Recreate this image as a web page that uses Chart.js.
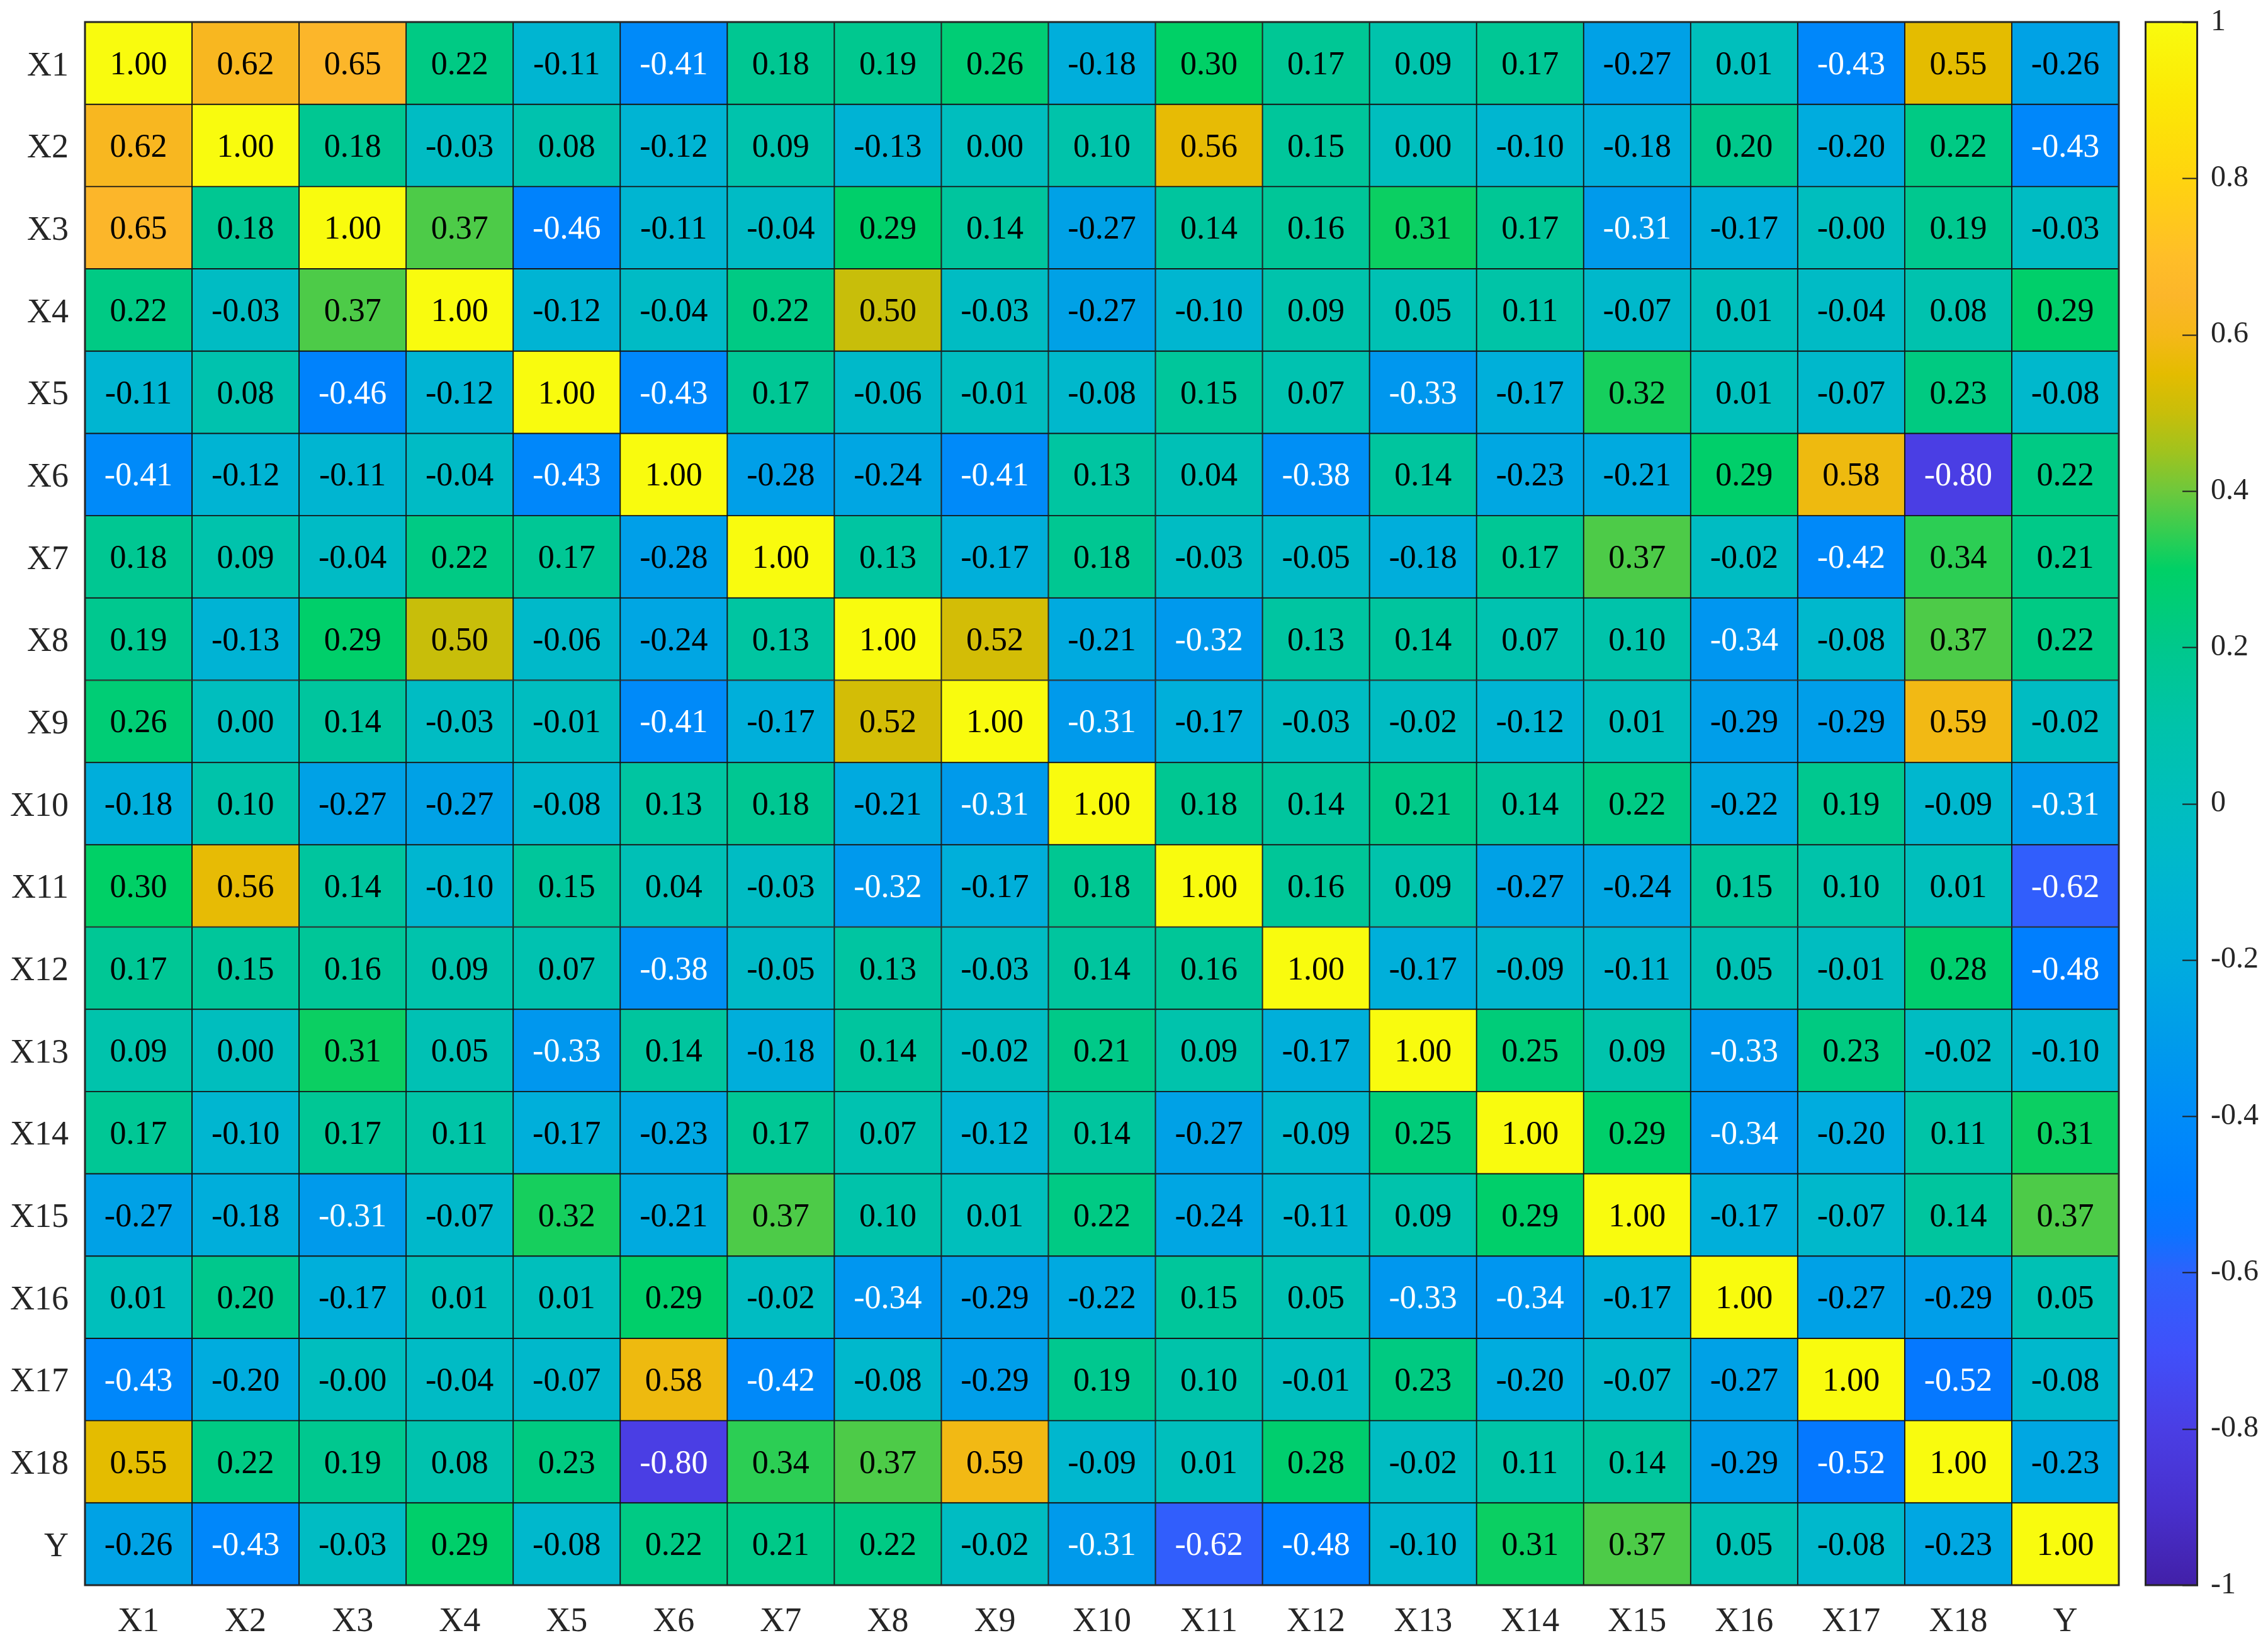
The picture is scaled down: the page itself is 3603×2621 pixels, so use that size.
<!DOCTYPE html>
<html>
<head>
<meta charset="utf-8">
<script src="https://cdn.jsdelivr.net/npm/chart.js@4/dist/chart.umd.min.js"></script>
<style>
  html, body { margin: 0; padding: 0; background: #ffffff; }
  #wrap { position: relative; width: 3603px; height: 2621px; background: #ffffff; }
  #main { position: absolute; left: 0; top: 0; }
  #cbar { position: absolute; left: 3407px; top: 0; }
</style>
</head>
<body>
<div id="wrap">
  <canvas id="main" width="3603" height="2621"></canvas>
  <canvas id="cbar" width="196" height="2621"></canvas>
</div>
<script>
// ---------------- DATA ----------------
const colLabels = ["X1","X2","X3","X4","X5","X6","X7","X8","X9","X10","X11","X12","X13","X14","X15","X16","X17","X18","Y"];
const rowLabels = ["X1","X2","X3","X4","X5","X6","X7","X8","X9","X10","X11","X12","X13","X14","X15","X16","X17","X18","Y"];

const corrX1  = [1.00, 0.62, 0.65, 0.22, -0.11, -0.41, 0.18, 0.19, 0.26, -0.18, 0.30, 0.17, 0.09, 0.17, -0.27, 0.01, -0.43, 0.55, -0.26];
const corrX2  = [0.62, 1.00, 0.18, -0.03, 0.08, -0.12, 0.09, -0.13, 0.00, 0.10, 0.56, 0.15, 0.00, -0.10, -0.18, 0.20, -0.20, 0.22, -0.43];
const corrX3  = [0.65, 0.18, 1.00, 0.37, -0.46, -0.11, -0.04, 0.29, 0.14, -0.27, 0.14, 0.16, 0.31, 0.17, -0.31, -0.17, -0.001, 0.19, -0.03];
const corrX4  = [0.22, -0.03, 0.37, 1.00, -0.12, -0.04, 0.22, 0.50, -0.03, -0.27, -0.10, 0.09, 0.05, 0.11, -0.07, 0.01, -0.04, 0.08, 0.29];
const corrX5  = [-0.11, 0.08, -0.46, -0.12, 1.00, -0.43, 0.17, -0.06, -0.01, -0.08, 0.15, 0.07, -0.33, -0.17, 0.32, 0.01, -0.07, 0.23, -0.08];
const corrX6  = [-0.41, -0.12, -0.11, -0.04, -0.43, 1.00, -0.28, -0.24, -0.41, 0.13, 0.04, -0.38, 0.14, -0.23, -0.21, 0.29, 0.58, -0.80, 0.22];
const corrX7  = [0.18, 0.09, -0.04, 0.22, 0.17, -0.28, 1.00, 0.13, -0.17, 0.18, -0.03, -0.05, -0.18, 0.17, 0.37, -0.02, -0.42, 0.34, 0.21];
const corrX8  = [0.19, -0.13, 0.29, 0.50, -0.06, -0.24, 0.13, 1.00, 0.52, -0.21, -0.32, 0.13, 0.14, 0.07, 0.10, -0.34, -0.08, 0.37, 0.22];
const corrX9  = [0.26, 0.00, 0.14, -0.03, -0.01, -0.41, -0.17, 0.52, 1.00, -0.31, -0.17, -0.03, -0.02, -0.12, 0.01, -0.29, -0.29, 0.59, -0.02];
const corrX10 = [-0.18, 0.10, -0.27, -0.27, -0.08, 0.13, 0.18, -0.21, -0.31, 1.00, 0.18, 0.14, 0.21, 0.14, 0.22, -0.22, 0.19, -0.09, -0.31];
const corrX11 = [0.30, 0.56, 0.14, -0.10, 0.15, 0.04, -0.03, -0.32, -0.17, 0.18, 1.00, 0.16, 0.09, -0.27, -0.24, 0.15, 0.10, 0.01, -0.62];
const corrX12 = [0.17, 0.15, 0.16, 0.09, 0.07, -0.38, -0.05, 0.13, -0.03, 0.14, 0.16, 1.00, -0.17, -0.09, -0.11, 0.05, -0.01, 0.28, -0.48];
const corrX13 = [0.09, 0.00, 0.31, 0.05, -0.33, 0.14, -0.18, 0.14, -0.02, 0.21, 0.09, -0.17, 1.00, 0.25, 0.09, -0.33, 0.23, -0.02, -0.10];
const corrX14 = [0.17, -0.10, 0.17, 0.11, -0.17, -0.23, 0.17, 0.07, -0.12, 0.14, -0.27, -0.09, 0.25, 1.00, 0.29, -0.34, -0.20, 0.11, 0.31];
const corrX15 = [-0.27, -0.18, -0.31, -0.07, 0.32, -0.21, 0.37, 0.10, 0.01, 0.22, -0.24, -0.11, 0.09, 0.29, 1.00, -0.17, -0.07, 0.14, 0.37];
const corrX16 = [0.01, 0.20, -0.17, 0.01, 0.01, 0.29, -0.02, -0.34, -0.29, -0.22, 0.15, 0.05, -0.33, -0.34, -0.17, 1.00, -0.27, -0.29, 0.05];
const corrX17 = [-0.43, -0.20, -0.001, -0.04, -0.07, 0.58, -0.42, -0.08, -0.29, 0.19, 0.10, -0.01, 0.23, -0.20, -0.07, -0.27, 1.00, -0.52, -0.08];
const corrX18 = [0.55, 0.22, 0.19, 0.08, 0.23, -0.80, 0.34, 0.37, 0.59, -0.09, 0.01, 0.28, -0.02, 0.11, 0.14, -0.29, -0.52, 1.00, -0.23];
const corrY   = [-0.26, -0.43, -0.03, 0.29, -0.08, 0.22, 0.21, 0.22, -0.02, -0.31, -0.62, -0.48, -0.10, 0.31, 0.37, 0.05, -0.08, -0.23, 1.00];

const matrix = [corrX1, corrX2, corrX3, corrX4, corrX5, corrX6, corrX7, corrX8, corrX9, corrX10,
                corrX11, corrX12, corrX13, corrX14, corrX15, corrX16, corrX17, corrX18, corrY];

const cbarMin = -1, cbarMax = 1, cbarStep = 0.2;

// ---------------- COLORMAP (style) ----------------
const cmapStops = [
  [-1.00, [66, 32, 168]],
  [-0.90, [72, 48, 205]],
  [-0.80, [74, 62, 228]],
  [-0.70, [64, 80, 250]],
  [-0.60, [45, 98, 252]],
  [-0.55, [12, 115, 255]],
  [-0.50, [0, 124, 255]],
  [-0.40, [0, 140, 248]],
  [-0.30, [0, 156, 234]],
  [-0.20, [0, 172, 222]],
  [-0.10, [0, 182, 208]],
  [0.00, [0, 190, 190]],
  [0.10, [0, 195, 170]],
  [0.20, [0, 200, 140]],
  [0.30, [0, 208, 102]],
  [0.35, [55, 205, 80]],
  [0.40, [110, 200, 60]],
  [0.45, [160, 195, 30]],
  [0.50, [200, 190, 10]],
  [0.55, [228, 188, 0]],
  [0.60, [245, 184, 25]],
  [0.65, [252, 182, 42]],
  [0.70, [255, 190, 40]],
  [0.80, [255, 212, 15]],
  [0.90, [252, 232, 5]],
  [1.00, [249, 251, 14]]
];
function cmap(v) {
  if (v <= cmapStops[0][0]) return rgb(cmapStops[0][1]);
  for (let k = 1; k < cmapStops.length; k++) {
    const [v1, c1] = cmapStops[k];
    const [v0, c0] = cmapStops[k - 1];
    if (v <= v1) {
      const t = (v - v0) / (v1 - v0);
      return rgb(c0.map((c, i) => c + (c1[i] - c) * t));
    }
  }
  return rgb(cmapStops[cmapStops.length - 1][1]);
}
function rgb(c) { return 'rgb(' + c.map(x => Math.round(x)).join(',') + ')'; }

const FONT = "'Liberation Serif', 'Times New Roman', Times, serif";
Chart.defaults.font.family = FONT;
Chart.defaults.color = '#262626';

function noPad(s) { s.paddingTop = 0; s.paddingBottom = 0; s.paddingLeft = 0; s.paddingRight = 0; }

// ---------------- MAIN HEATMAP ----------------
const cellTextPlugin = {
  id: 'cellText',
  afterDatasetsDraw(chart) {
    const ctx = chart.ctx;
    ctx.save();
    ctx.font = '52px ' + FONT;
    ctx.textAlign = 'center';
    ctx.textBaseline = 'middle';
    chart.data.datasets.forEach((ds, i) => {
      const meta = chart.getDatasetMeta(i);
      meta.data.forEach((el, j) => {
        const v = matrix[i][j];
        const cy = (el.y + el.base) / 2;
        ctx.fillStyle = v < -0.3 ? '#ffffff' : '#000000';
        ctx.fillText(v.toFixed(2), el.x, cy + 4);
      });
    });
    const a = chart.chartArea;
    ctx.strokeStyle = '#262626';
    ctx.lineWidth = 3;
    ctx.strokeRect(a.left, a.top, a.right - a.left, a.bottom - a.top);
    ctx.restore();
  }
};

new Chart(document.getElementById('main'), {
  type: 'bar',
  data: {
    labels: colLabels,
    datasets: rowLabels.map((r, i) => ({
      label: r,
      data: colLabels.map(() => [i, i + 1]),
      backgroundColor: matrix[i].map(v => cmap(v)),
      borderColor: '#151515',
      borderWidth: 1.3,
      borderSkipped: false,
      categoryPercentage: 1,
      barPercentage: 1,
      grouped: false
    }))
  },
  options: {
    responsive: false,
    devicePixelRatio: 1,
    animation: false,
    layout: { padding: { left: 0, top: 35, right: 237, bottom: 0 } },
    plugins: { legend: { display: false }, tooltip: { enabled: false } },
    scales: {
      x: {
        type: 'category',
        offset: true,
        grid: { display: false, drawTicks: false },
        border: { display: false },
        ticks: { font: { size: 54 }, color: '#262626', padding: 26, maxRotation: 0, autoSkip: false },
        afterFit: s => { s.height = 103; noPad(s); }
      },
      y: {
        type: 'linear',
        min: 0,
        max: rowLabels.length,
        reverse: true,
        grid: { display: false, drawTicks: false },
        border: { display: false },
        afterBuildTicks: s => { s.ticks = rowLabels.map((_, i) => ({ value: i + 0.5 })); },
        ticks: {
          font: { size: 54 }, color: '#262626', padding: 26, autoSkip: false, labelOffset: 5,
          callback: (v, idx) => rowLabels[idx]
        },
        afterFit: s => { s.width = 135; noPad(s); }
      }
    }
  },
  plugins: [cellTextPlugin]
});

// ---------------- COLORBAR ----------------
const cbarTicksPlugin = {
  id: 'cbarTicks',
  afterDatasetsDraw(chart) {
    const ctx = chart.ctx;
    const a = chart.chartArea;
    const ys = chart.scales.y;
    ctx.save();
    ctx.strokeStyle = '#1e1e1e';
    ctx.lineWidth = 2;
    ys.ticks.forEach(t => {
      const py = Math.round(ys.getPixelForValue(t.value)) + 0.5;
      ctx.beginPath();
      ctx.moveTo(a.right - 25, py);
      ctx.lineTo(a.right, py);
      ctx.stroke();
    });
    ctx.lineWidth = 3;
    ctx.strokeStyle = '#262626';
    ctx.strokeRect(a.left + 1.5, a.top, a.right - a.left - 3, a.bottom - a.top);
    ctx.restore();
  }
};

new Chart(document.getElementById('cbar'), {
  type: 'bar',
  data: {
    labels: ['cb'],
    datasets: [{
      data: [[cbarMin, cbarMax]],
      backgroundColor: (c) => {
        const ch = c.chart;
        const a = ch.chartArea;
        if (!a) return 'rgba(0,0,0,0)';
        const g = ch.ctx.createLinearGradient(0, a.bottom, 0, a.top);
        cmapStops.forEach(s => g.addColorStop((s[0] - cbarMin) / (cbarMax - cbarMin), rgb(s[1])));
        return g;
      },
      borderWidth: 0,
      categoryPercentage: 1,
      barPercentage: 1
    }]
  },
  options: {
    responsive: false,
    devicePixelRatio: 1,
    animation: false,
    layout: { padding: { left: 0, top: 35, right: 0, bottom: 103 } },
    plugins: { legend: { display: false }, tooltip: { enabled: false } },
    scales: {
      x: { display: false, offset: true },
      y: {
        position: 'right',
        min: cbarMin,
        max: cbarMax,
        grid: { display: false, drawTicks: false },
        border: { display: false },
        ticks: {
          stepSize: cbarStep,
          font: { size: 48 },
          color: '#262626',
          padding: 20,
          callback: v => String(Number(v.toFixed(1)))
        },
        afterFit: s => { s.width = 111; noPad(s); }
      }
    }
  },
  plugins: [cbarTicksPlugin]
});
</script>
</body>
</html>
